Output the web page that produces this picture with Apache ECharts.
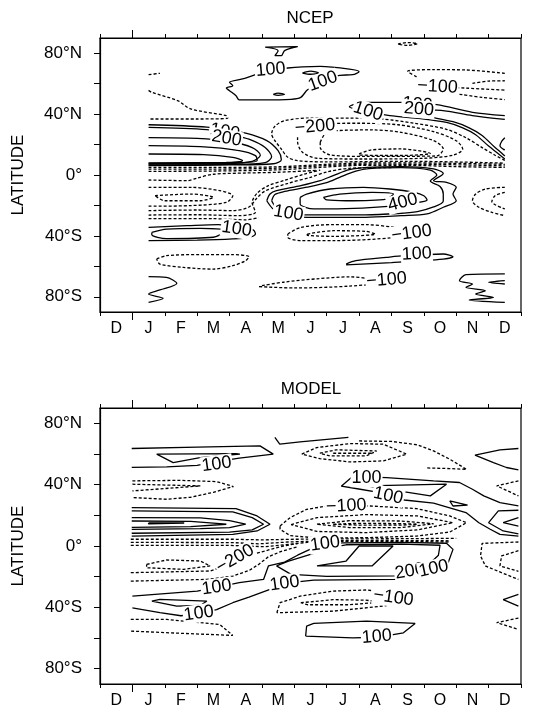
<!DOCTYPE html>
<html>
<head>
<meta charset="utf-8">
<script src="https://cdn.jsdelivr.net/npm/echarts@6/dist/echarts.min.js"></script>
<style>
  html, body { margin: 0; padding: 0; background: #fff; }
  #chart { width: 534px; height: 713px; }
</style>
</head>
<body>
<div id="chart"></div>
<script>
// x: 0 = Dec, 1 = Jan ... 12 = Dec ; y: latitude
const months = ['D', 'J', 'F', 'M', 'A', 'M', 'J', 'J', 'A', 'S', 'O', 'N', 'D'];
const monthPos = [0, 1, 2, 3, 4, 5, 6, 7, 8, 9, 10, 11, 12];
const monthEdges = [-0.5, 0.5, 1.5, 2.5, 3.5, 4.5, 5.5, 6.5, 7.5, 8.5, 9.5, 10.5, 11.5, 12.5];
const yearStart = [0.5];
const latTicks = [-80, -60, -40, -20, 0, 20, 40, 60, 80];
const latLabels = [-80, -40, 0, 40, 80];

// NCEP positive contours (solid)
const ncepSolid = [
  [[4.6,84],[5.6,84.3],[5.2,81.7],[5.1,78.4],[4.9,78.4],[5.0,81.7],[4.6,84]],
  [[4.3,66],[5.3,70.3],[6.3,71.4],[7.2,69.6],[7.5,67.9],[7.3,65.9],[6.9,65.5],[6.3,60.9],[5.9,55.8],[5.7,51],[5.4,49.7],[4.5,49.3],[3.8,49.3],[3.7,52.1],[3.5,55.4],[3.4,57.1],[3.6,58.7],[3.5,60.9],[3.9,63.1],[4.3,66]],
  [[5.75,67],[6.0,68.2],[6.25,67],[6.0,66.2],[5.75,67]],
  [[4.85,53],[5.0,53.8],[5.2,53],[5.0,52.3],[4.85,53]],
  [[1,33],[2.8,31.5],[3.4,29.5],[4.0,27.5],[4.65,22.6],[5.0,16],[5.1,10],[4.85,7.4],[3.5,6.6],[1,6.2]],
  [[1,31.3],[2.8,29.8],[3.5,26.5],[4.1,23.5],[4.6,18],[4.8,12],[4.6,8.2],[3.5,7],[1,6.6]],
  [[1,24.5],[2.5,24],[3.5,22],[4.2,18],[4.45,13],[4.2,9],[3.4,7.5],[1,7.2]],
  [[1,19.3],[2.6,18.6],[3.8,16],[4.3,12.7],[4.35,9.4],[3.6,8],[1,7.6]],
  [[1,13.8],[2.7,13.4],[3.6,11.6],[3.9,9.4],[3.4,8.2],[1,8]],
  [[12,39],[11.0,41.2],[9.9,46.2],[8.8,47.7],[7.7,47.7],[7.2,44.9],[7.6,42.3],[8.45,39],[9.4,37],[10.2,34.5],[10.7,31],[11.1,26.5],[11.5,19],[11.8,14],[12,10.5]],
  [[12,36.5],[11.0,39],[10.2,42],[9.6,43],[9.0,41.5],[9.6,38.5],[10.4,35],[10.9,31],[11.3,26],[11.7,18],[11.9,14.5],[12,12.5]],
  [[12,24.5],[11.9,22],[11.85,19],[11.95,17],[12,16.5]],
  [[4.65,-16.9],[4.75,-12.5],[4.95,-10.3],[5.7,-7],[6.3,-3.7],[6.7,-0.4],[7.2,3.5],[7.75,5],[8.8,5.5],[9.8,4],[10.1,1],[9.8,-3.7],[10.2,-4.8],[10.5,-8.1],[10.4,-12.5],[10.5,-16.9],[10.1,-21.2],[9.6,-25.6],[8.8,-26.7],[7.7,-27.8],[5.9,-27.8],[5.3,-26.7],[4.85,-22.3],[4.65,-16.9]],
  [[4.8,-16.9],[4.9,-12.8],[5.2,-10.8],[5.9,-8],[6.5,-5],[6.9,-1.5],[7.4,2.5],[7.8,4.2],[8.8,4.8],[9.7,3.2],[9.9,0],[9.7,-4],[10.0,-7.5],[10.1,-12.5],[10.1,-17],[9.8,-21],[9.3,-24],[8.7,-25.3],[7.7,-26.2],[6.0,-26.2],[5.35,-25.2],[4.95,-21.5],[4.8,-16.9]],
  [[5.68,-14.7],[5.88,-12.5],[6.6,-9.2],[7.63,-8.1],[8.45,-9.2],[9.2,-11.4],[9.5,-13.6],[9.6,-16.5],[9.2,-18.5],[8.5,-20.5],[7.6,-21.7],[6.1,-22.3],[5.68,-19],[5.68,-14.7]],
  [[6.4,-14.7],[6.9,-12.5],[7.9,-11.4],[8.56,-12.5],[8.35,-15.8],[7.1,-16.9],[6.5,-16.4],[6.4,-14.7]],
  [[1,-34.4],[2.2,-33.3],[3.15,-32.6],[3.7,-34],[4.23,-36.1],[4.3,-38.8],[4.13,-40.9],[3.6,-42],[2.5,-42.8],[1,-43.1]],
  [[1.1,-37.7],[1.56,-35.5],[2.6,-35],[3.4,-36.6],[3.0,-40.9],[1.56,-41.8],[1.1,-39.2],[1.1,-37.7]],
  [[7.1,-58.5],[7.4,-56.3],[8.35,-54.1],[8.9,-53],[10.1,-51.9],[10.4,-53.7],[10.1,-55.2],[8.5,-57.5],[7.1,-59]],
  [[1,-66.8],[1.55,-67.3],[1.87,-71.2],[1.35,-75.5],[1,-78.2],[1.45,-81],[1,-83.7]],
  [[12,-65],[10.8,-65.5],[10.6,-69.4],[11.0,-71.6],[10.8,-73.8],[11.4,-76],[11.1,-78.2],[11.65,-80.4],[10.9,-82.1],[12,-83.7]],
  [[12,-69.4],[11.5,-70.5],[12,-71.6]]
];

// NCEP negative contours (dashed)
const ncepDashed = [
  [[8.7,86],[9.0,87],[9.3,86.3],[9.0,85.2],[8.7,86]],
  [[1,65.9],[1.35,66.8]],
  [[12,66.8],[10.8,69],[9.8,69.2],[9.0,68.1],[9.3,64.2],[9.8,58.7],[10.8,57.1],[12,55.8]],
  [[11.0,60.2],[11.5,61.7],[12,61.9]],
  [[10.6,53],[11.3,51],[12,49.5]],
  [[1,55.6],[1.1,54.3],[1.9,48.8],[2.3,43.4],[3.4,39],[3.45,37.4],[2.5,36.8],[1,36.8]],
  [[12,9.6],[11.7,13],[11.3,18],[10.8,24.5],[10.2,30],[9.2,34],[8.2,36.8],[7.2,37.4],[6.0,37.4],[5.2,35.7],[4.9,32],[4.8,27],[4.9,22.6],[5.1,17],[5.3,11.6],[5.6,9.4],[6.5,8.6],[9,9],[12,7.8]],
  [[5.6,31],[6.2,33.5],[7.5,34],[8.7,33],[9.8,28.5],[10.5,22.5],[10.7,17],[10.4,13],[9.5,11],[7.5,10.5],[6.2,11],[5.75,15],[5.6,22],[5.6,31]],
  [[6.3,21.5],[6.45,26.9],[6.8,29.1],[7.9,29.6],[8.8,28],[9.8,22.6],[10.1,17.1],[9.9,12.5],[7.7,12.2],[6.6,13.2],[6.3,18.2],[6.3,21.5]],
  [[7.5,13.8],[7.85,16.4],[8.8,17.1],[9.7,14.2],[8.8,12.8],[7.5,13.2],[7.5,13.8]],
  [[1,5],[3,5],[5,5.4],[6.5,7],[8,8],[10,7.8],[12,7]],
  [[1,3.9],[3,3.9],[5,4.5],[6.5,6.2],[8,7.1],[10,6.9],[12,6]],
  [[1,2.4],[3,2.6],[5,3.4],[6.3,5],[7.5,6.3],[9,6.4],[10.5,5.5],[12,5]],
  [[1,-3.3],[2.2,-3.7],[2.5,-2],[3,0.5],[4,1.3],[5,1.8],[6.2,3]],
  [[1,-8.1],[2.3,-8.1],[3.2,-10.3],[3.6,-13.6],[3.4,-18],[2.3,-20.1],[1,-20.5]],
  [[1.2,-13.6],[2.3,-12.5],[3.0,-14.7],[2.6,-16.9],[1.5,-16.9],[1.2,-13.6]],
  [[1,-23.4],[2.5,-23],[3.6,-23.4],[4.1,-21],[4.35,-15],[4.6,-10.5],[5.3,-5.5],[6.0,-1.5],[6.5,2],[7.2,4.4],[8.5,4.9]],
  [[1,-26.3],[2.5,-26.1],[3.8,-26.7],[4.3,-24.5],[4.2,-18],[4.35,-12],[4.7,-7],[5.2,-3.5],[5.8,0.5],[6.3,3.2]],
  [[1,-28.7],[3,-28.7],[4.0,-29.5],[4.4,-28]],
  [[5.3,-38.8],[5.7,-34.4],[6.7,-32.6],[7.7,-32.6],[8.6,-34.4],[9.3,-37],[8.6,-41],[6.7,-43.1],[5.7,-43.1],[5.3,-41],[5.3,-38.8]],
  [[5.9,-38.8],[6.7,-36.6],[7.7,-37],[8.0,-38.8],[6.7,-40.3],[5.9,-39.5],[5.9,-38.8]],
  [[4.5,-72.7],[5.2,-70.3],[6.2,-68.2],[7.2,-66.9],[7.8,-68],[8.5,-70],[7.2,-73],[5.5,-74.2],[4.4,-73.3]],
  [[1.25,-55.2],[1.55,-53],[2.6,-52.3],[3.6,-52.3],[4.1,-53.7],[4.0,-56.3],[3.6,-59.6],[3.0,-61.8],[2.07,-60.7],[1.35,-58.5],[1.25,-55.2]],
  [[12,-8.1],[11.4,-9.2],[11.1,-12.5],[11.0,-16.9],[11.2,-21.2],[11.6,-24.5],[12,-26.7]],
  [[12,-11.4],[11.7,-13.6],[11.6,-17.5],[12,-22.3]]
];

const ncepLabels = [
  [4.77, 69.2, '100'], [6.38, 61.5, '100'], [9.92, 58, '−100'], [9.3, 46.4, '100'],
  [9.35, 43.2, '200'], [7.78, 41.8, '100'], [6.14, 31.7, '−200'], [3.36, 28.5, '100'],
  [3.41, 24, '200'], [8.85, -18, '400'], [5.32, -25.2, '100'], [3.72, -35.5, '100'],
  [9.12, -38.3, '−100'], [9.28, -51.9, '100'], [8.35, -69, '−100']
];
const ncepLabelRot = [5, 20, -3, -5, -5, -18, 5, -10, -10, 15, -10, -8, 8, 3, 5];

// MODEL positive contours (solid)
const modelSolid = [
  [[0.48,63.6],[2.5,64.5],[4.44,65.3],[4.85,59.9],[3.8,57.3],[3.1,55],[2.5,52.6],[1.56,51.6],[0.48,51.3]],
  [[1.25,59.9],[1.76,54.4],[2.59,57.6],[3.82,59.9],[3.7,60.3],[1.25,59.9]],
  [[0.48,25],[3.7,24.4],[4.35,19.6],[4.75,14.2],[4.35,9.8],[3.6,7.6],[0.48,6.5]],
  [[0.48,22.9],[3.6,22.2],[4.2,18.5],[4.55,14.2],[4.2,10.5],[3.5,9],[0.48,8.3]],
  [[0.48,18.5],[2.6,18.3],[3.5,16.5],[4.0,14.2],[3.5,12],[2.6,11.3],[0.48,10.9]],
  [[0.48,16.3],[2.3,16.1],[3.4,14.2],[2.3,12.6],[0.48,12.2]],
  [[1.0,15],[2.1,15],[2.1,14.4],[1.0,14.4],[1.0,15]],
  [[0.5,-32.7],[2.5,-29.4],[3.1,-27],[3.8,-23.9],[4.55,-21.8],[4.7,-13],[5.2,-10.5],[5.6,-6],[6.05,-1.5],[6.5,1],[7.0,2.0],[8.8,2.4],[10.2,1.8],[10.4,-2.2],[10.25,-10.9],[9.85,-15],[9.4,-20.5],[8.6,-21.8],[6.1,-22.2],[5.3,-24],[4.75,-28.3],[4.1,-33.3],[3.6,-37],[3.1,-41.5],[2.55,-44],[2.0,-45.5],[1.35,-43.5],[0.5,-40.3]],
  [[4.95,-13],[5.3,-10],[6.0,-5.5],[6.6,-1],[7.1,0.8],[8.8,1.2],[10.0,0.5],[9.95,-6],[9.55,-14],[9.1,-16.3],[8.6,-19.5],[6.5,-19.8],[5.4,-18.5],[4.95,-13]],
  [[6.2,-13],[7.9,-13],[8.55,0],[7.5,0],[7.1,-9.8],[6.2,-13]],
  [[12.42,26.1],[11.85,28.3],[11.35,32.7],[11.0,37],[10.6,41.4],[9.8,42.5],[8.35,44.6],[7.3,45.3],[6.95,39],[7.4,37.5],[8.1,35],[8.4,33],[8.9,30],[9.8,27.9],[10.8,21.8],[11.2,15.2],[11.55,10.9],[11.85,7.6],[12.42,6.5]],
  [[12.42,23.3],[11.8,22.9],[11.5,15.2],[11.95,9.8],[12.42,7.9]],
  [[12.42,18.5],[11.95,15.2],[12.42,13]],
  [[7.73,39.2],[10.2,40.3],[9.7,32.7],[7.73,39.2]],
  [[10.3,29.4],[10.85,26.6],[10.4,26.1],[10.3,29.4]],
  [[12.42,63.6],[11.85,62.7],[11.08,59.2],[11.65,54.4],[12.05,51.2],[12.42,49.6]],
  [[4.9,70.8],[5.05,66.4],[5.68,67.9],[7.17,70.8]],
  [[5.85,-58.8],[5.88,-52.3],[6.1,-50.5],[7.73,-49],[9.23,-50.5],[8.87,-56.6],[8.1,-59.5],[7.3,-59.9],[5.85,-58.8]],
  [[1.1,-35.9],[1.35,-34.8],[2.8,-35.9],[2.6,-38.8],[1.87,-39.2],[1.1,-35.9]],
  [[12.42,-31.6],[11.95,-35],[12.42,-39.2]]
];

// MODEL negative contours (dashed)
const modelDashed = [
  [[0.5,42.5],[2,42.8],[3.1,42],[3.62,38.8],[3.0,35],[2.3,31.8],[1.56,30.5],[0.5,31.6]],
  [[0.5,40.3],[2.6,39.2],[0.5,35.9]],
  [[5.73,59.9],[6.19,64.2],[7.22,66.8],[8.25,66.4],[8.97,59.9],[8.25,55.5],[7.22,54.8],[6.29,57],[5.73,59.9]],
  [[6.29,60.5],[6.8,62.7],[8.04,62],[7.73,58.8],[6.6,58.8],[6.29,60.5]],
  [[6.7,60.5],[7.94,60.5]],
  [[7.5,68.5],[8.5,68.2],[9.3,66],[9.8,62],[10.3,56.6],[10.82,50],[10.3,50.5],[9.6,50.9]],
  [[5.06,13.1],[5.37,18.5],[5.88,23.9],[6.4,25.7],[7.1,26.1],[7.84,26.1],[9.28,24.4],[10.3,19.6],[10.82,15.2],[10.3,9.1],[9.28,6.5],[7.73,5.4],[6.19,5.2],[5.37,6.8],[5.06,10.9],[5.06,13.1]],
  [[5.4,14],[6.2,18.5],[7.7,20.5],[9.3,19.6],[10.4,15.2],[9.3,10.5],[7.7,8.7],[6.2,9.5],[5.4,14]],
  [[6.2,14.2],[7.2,16.5],[8.8,16.3],[9.8,14.5],[8.8,12],[7.2,12],[6.2,14.2]],
  [[6.7,14.2],[7.5,14.8],[8.8,14.6],[9.3,14.2],[8.8,13.6],[7.5,13.6],[6.7,14.2]],
  [[0.45,4.4],[3.6,4.4],[4.5,4.0],[5.5,4.4],[7,4.6],[9,4.8],[10.5,5]],
  [[0.45,2.4],[3.6,2.2],[4.4,1.4],[5.3,2.6],[6.5,3.4],[8.5,3.6],[10.3,3.4]],
  [[0.45,0.4],[3.5,0.4],[4.6,-0.5],[5.2,0.8],[6.0,2.6],[7,3.0],[9,3.0],[10.3,2.6]],
  [[0.45,-17.4],[2.9,-16.3],[3.3,-13.5],[3.7,-8],[4.3,-5],[4.8,-2],[5.16,0],[5.6,1.6]],
  [[0.45,-22.9],[2.8,-21.8],[3.6,-19.6],[4.1,-16],[4.4,-12],[4.7,-7],[5.1,-3.5],[5.6,-0.5]],
  [[0.94,-12],[1.56,-9.1],[2.6,-9.8],[2.9,-13],[2.07,-15.2],[0.94,-14.2],[0.94,-12]],
  [[4.96,-43.5],[5.06,-37],[5.68,-32.7],[6.7,-29.4],[7.73,-28.7],[8.3,-30],[8.56,-33.7],[9.2,-35.3],[8.25,-39.2],[6.7,-42.5],[4.96,-43.5]],
  [[5.7,-37],[6.7,-35],[7.7,-35.3],[8.2,-36.6],[7.2,-38.3],[5.9,-38.3],[5.7,-37]],
  [[0.45,-47.9],[1.56,-47.9],[3.2,-51.2],[3.6,-58.3],[2.07,-57],[0.45,-55.5]],
  [[12.42,2.6],[11.3,1.7],[11.25,-6.5],[11.4,-13],[11.9,-17.4],[12.42,-21.8]],
  [[12.42,-3],[11.9,-6.5],[11.85,-13],[12.42,-16.5]],
  [[12.42,-47],[11.75,-50],[12.42,-54.4]],
  [[12.42,42.5],[11.75,39.2],[12.42,32.7]]
];

const modelLabels = [
  [3.1, 53.3, '100'], [7.73, 44.2, '100'], [8.4, 32.7, '100'], [7.1, 26.1, '−100'],
  [6.45, 1.5, '100'], [3.67, -8.3, '−200'], [3.1, -27, '100'], [5.2, -24.4, '100'],
  [2.55, -44, '100'], [9.07, -16.5, '200'], [9.8, -14.8, '100'], [8.56, -33.7, '−100'],
  [8.05, -59.2, '100']
];
const modelLabelRot = [8, 0, -12, 3, 8, 30, 8, 8, 8, 10, 12, -8, 5];

const FONT = 'Liberation Sans, Arial, sans-serif';
const chart = echarts.init(document.getElementById('chart'), null, { renderer: 'canvas' });

const grids = [
  { left: 100, top: 38, width: 421, height: 274 },
  { left: 100, top: 408, width: 421, height: 276 }
];

function latFmt(v) {
  if (v === 0) return '0°';
  return Math.abs(v) + '°' + (v > 0 ? 'N' : 'S');
}

const xAxes = [];
const yAxes = [];
grids.forEach((g, gi) => {
  // bottom axis with month letters
  xAxes.push({
    type: 'value', gridIndex: gi, min: -0.5, max: 12.5, position: 'bottom',
    axisLine: { show: true, onZero: false, lineStyle: { color: '#000', width: 1.2 } },
    axisTick: { show: true, inside: false, length: 4, customValues: monthEdges, lineStyle: { color: '#000' } },
    axisLabel: {
      show: true, customValues: monthPos, formatter: v => months[Math.round(v)],
      margin: 9, fontSize: 16, color: '#000', fontFamily: FONT
    },
    splitLine: { show: false }
  });
  // top axis, ticks only
  xAxes.push({
    type: 'value', gridIndex: gi, min: -0.5, max: 12.5, position: 'top',
    axisLine: { show: true, onZero: false, lineStyle: { color: '#000', width: 1.2 } },
    axisTick: { show: true, inside: false, length: 4, customValues: monthEdges, lineStyle: { color: '#000' } },
    axisLabel: { show: false },
    splitLine: { show: false }
  });
  // longer tick where the year starts, bottom and top
  ['bottom', 'top'].forEach(pos => {
    xAxes.push({
      type: 'value', gridIndex: gi, min: -0.5, max: 12.5, position: pos,
      axisLine: { show: false, onZero: false },
      axisTick: { show: true, inside: false, length: 8, customValues: yearStart, lineStyle: { color: '#000' } },
      axisLabel: { show: false },
      splitLine: { show: false }
    });
  });
  yAxes.push({
    type: 'value', gridIndex: gi, min: -90, max: 90, position: 'left',
    name: 'LATITUDE', nameLocation: 'middle', nameRotate: 90, nameGap: 73,
    nameTextStyle: { fontSize: 17, color: '#000', fontFamily: FONT },
    axisLine: { show: true, onZero: false, lineStyle: { color: '#000', width: 1.2 } },
    axisTick: { show: true, inside: false, length: 6, customValues: latTicks, lineStyle: { color: '#000' } },
    axisLabel: {
      show: true, customValues: latLabels, formatter: latFmt,
      margin: 18, fontSize: 17, color: '#000', fontFamily: FONT
    },
    splitLine: { show: false }
  });
});

function contourSeries(paths, dashed, gi, smooth) {
  return paths.map(p => ({
    type: 'line', xAxisIndex: gi * 4, yAxisIndex: gi,
    data: p, symbol: 'none', smooth: smooth, silent: true,
    lineStyle: { color: '#000', width: 1.3, type: dashed ? [3, 2] : 'solid' },
    z: 2
  }));
}

function labelSeries(labels, rots, gi) {
  return {
    type: 'scatter', xAxisIndex: gi * 4, yAxisIndex: gi, symbolSize: 0, silent: true, z: 5,
    itemStyle: { opacity: 1, color: '#000' },
    data: labels.map((l, i) => ({
      value: [l[0], l[1]],
      label: { formatter: l[2], rotate: rots[i] }
    })),
    label: {
      show: true, position: 'inside', color: '#000', fontSize: 18, fontFamily: FONT,
      textBorderWidth: 0, textBorderColor: 'transparent', textShadowBlur: 0,
      backgroundColor: '#fff', padding: [0, 1]
    }
  };
}

const series = [].concat(
  contourSeries(ncepSolid, false, 0, 0.3),
  contourSeries(ncepDashed, true, 0, 0.3),
  [labelSeries(ncepLabels, ncepLabelRot, 0)],
  contourSeries(modelSolid, false, 1, false),
  contourSeries(modelDashed, true, 1, false),
  [labelSeries(modelLabels, modelLabelRot, 1)]
);

chart.setOption({
  animation: false,
  backgroundColor: '#fff',
  grid: grids.map(g => Object.assign({ show: true, borderColor: '#000', borderWidth: 1.2, backgroundColor: 'transparent' }, g)),
  xAxis: xAxes,
  yAxis: yAxes,
  graphic: [
    { type: 'text', x: 310, y: 18, style: { text: 'NCEP', font: '17px ' + FONT, fill: '#000', textAlign: 'center', textVerticalAlign: 'middle' } },
    { type: 'text', x: 311, y: 389, style: { text: 'MODEL', font: '17px ' + FONT, fill: '#000', textAlign: 'center', textVerticalAlign: 'middle' } }
  ],
  series: series
});
</script>
</body>
</html>
